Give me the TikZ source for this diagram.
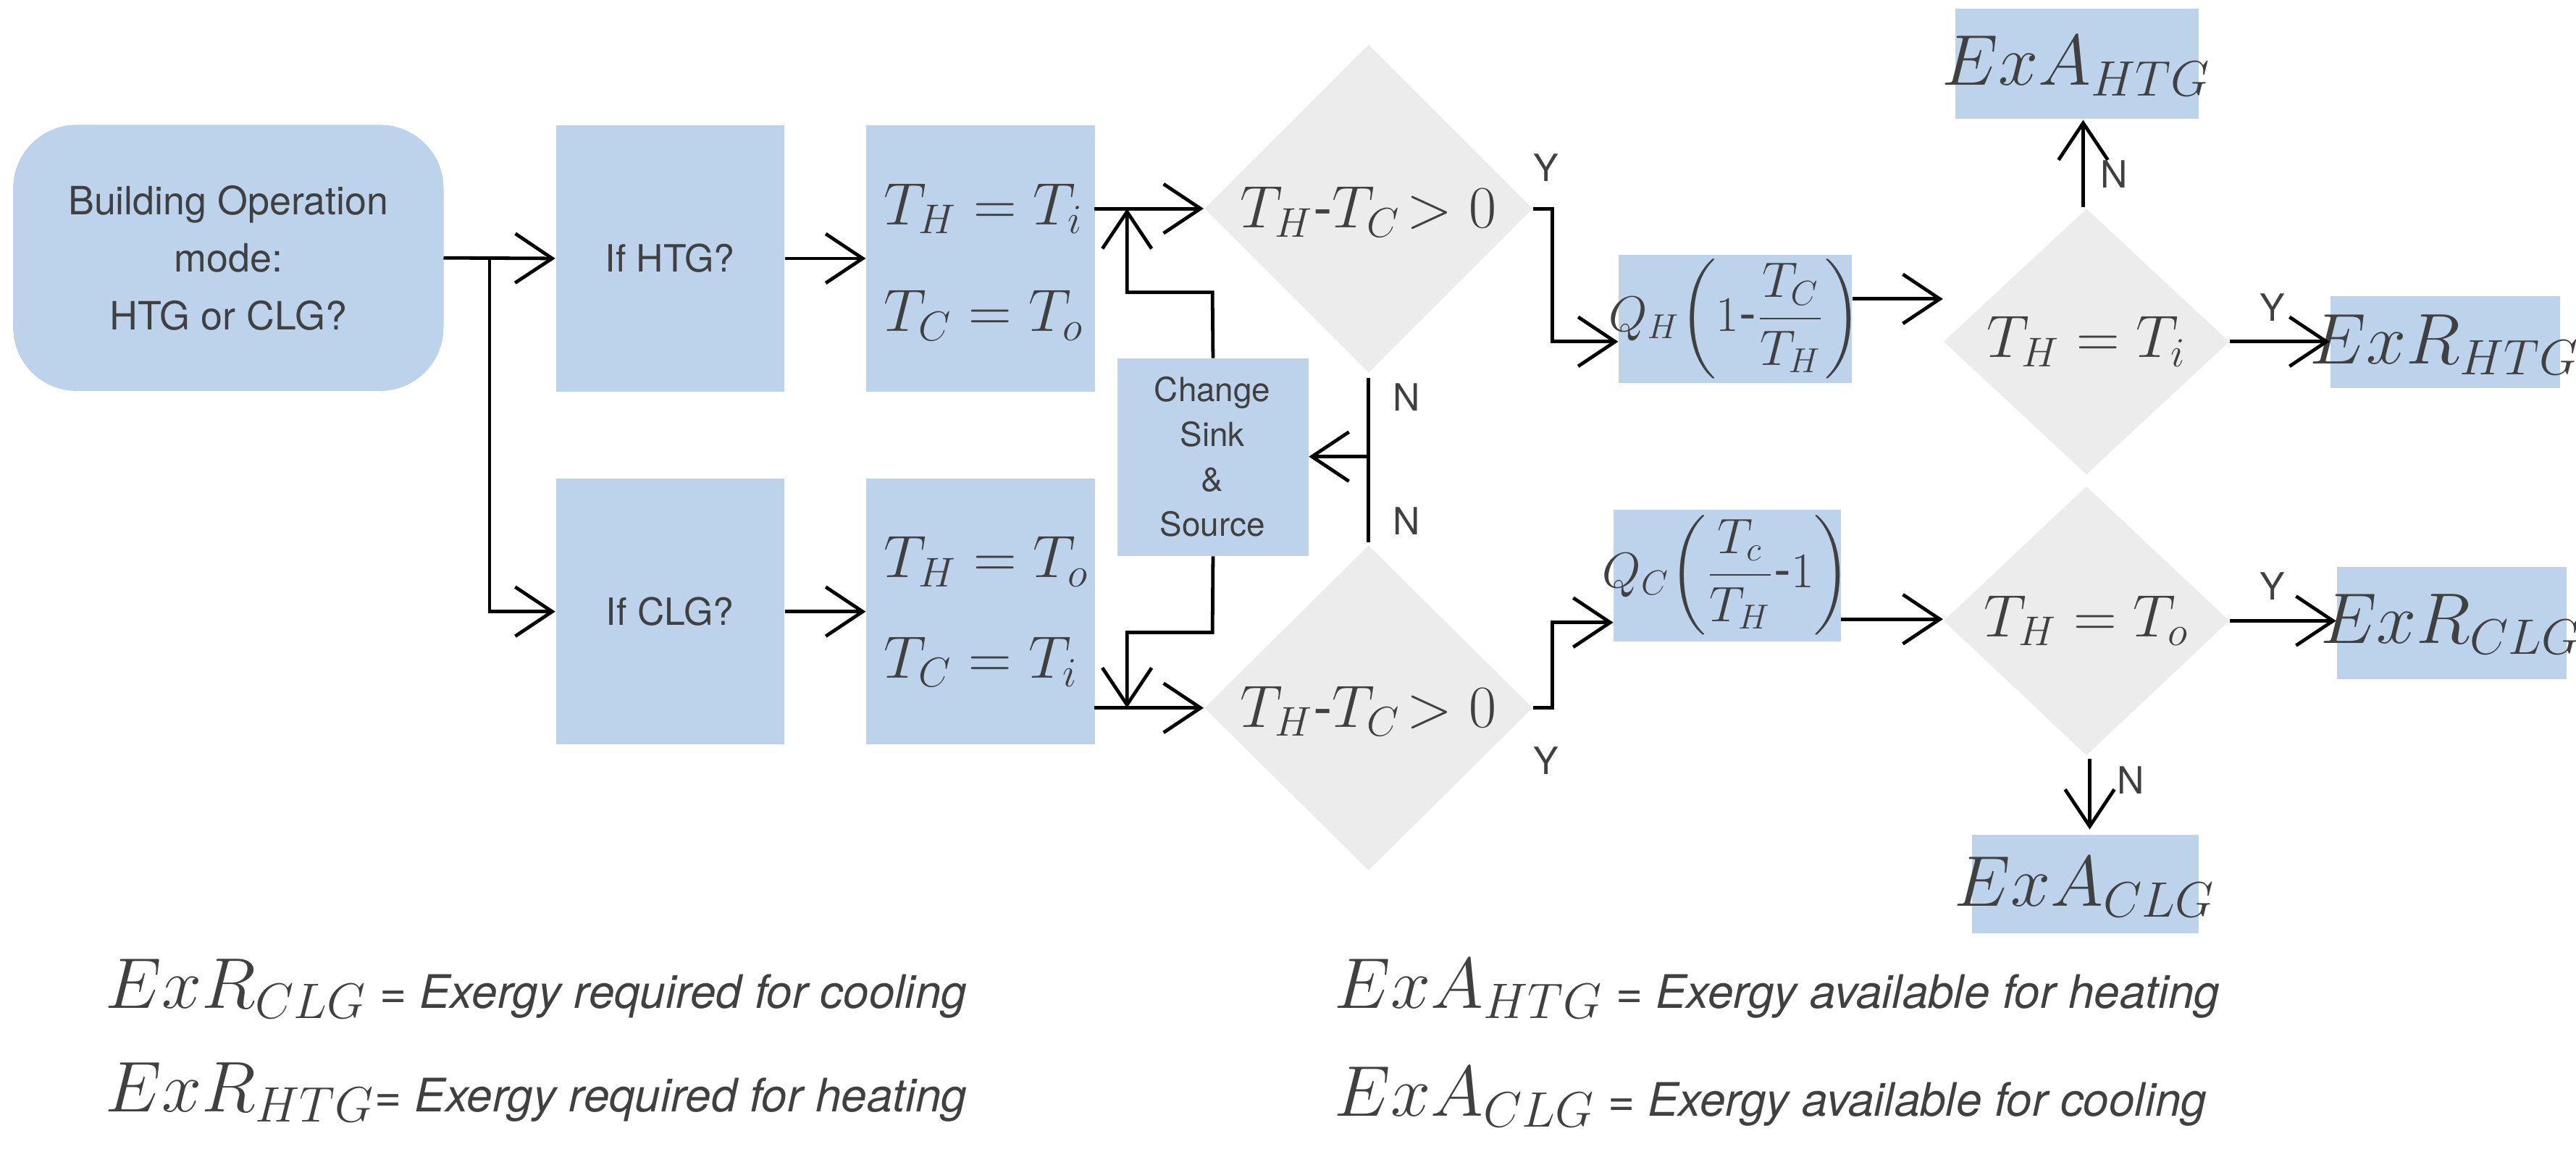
\documentclass[tikz,border=0pt]{standalone}
\usepackage{amsmath}
\usepackage{fontspec}
\setmainfont{TeX Gyre Heros}
\usetikzlibrary{arrows.meta,shapes.geometric}
\definecolor{bx}{HTML}{BCD3EB}
\definecolor{dg}{HTML}{EBECEB}
\definecolor{tx}{HTML}{404040}
\tikzset{
 bbox/.style={fill=bx,draw=none,text=tx,inner sep=0pt,anchor=north west},
 dia/.style={fill=dg,draw=none,diamond,inner sep=0pt,text=tx},
 arr/.style={line width=1.2pt,-{Straight Barb[length=4.5mm,width=6mm,line width=1.2pt]}},
 ln/.style={line width=1.2pt},
 lab/.style={text=tx,font=\fontsize{13}{15}\selectfont},
}
\newcommand{\bgm}[1]{\fontsize{20}{24}\selectfont$#1$}
\begin{document}
\begin{tikzpicture}[x=0.02cm,y=-0.02cm,every node/.style={text=tx}]
\useasboundingbox (0,0) rectangle (1568,704);
\fill[bx,rounded corners=22] (8,76) rectangle (270,238);
\node[align=center,font=\fontsize{13.5}{20}\selectfont] (bo) at (139,157) {Building Operation\\mode:\\HTG or CLG?};
\coordinate (boE) at (270,157);
\node[bbox,minimum width=139*0.02cm,minimum height=162*0.02cm,font=\fontsize{13}{15}\selectfont] (ih) at (338,76) {If HTG?};
\node[bbox,minimum width=139*0.02cm,minimum height=162*0.02cm,font=\fontsize{13}{15}\selectfont] (ic) at (338,291) {If CLG?};
\node[bbox,minimum width=139*0.02cm,minimum height=162*0.02cm] (tu) at (527,76) {};
\node[bbox,minimum width=139*0.02cm,minimum height=162*0.02cm] (tl) at (527,291) {};
\node[anchor=west] at (532,127) {\bgm{T_H = T_i}};
\node[anchor=west] at (532,192) {\bgm{T_C = T_o}};
\node[anchor=west] at (532,342) {\bgm{T_H = T_o}};
\node[anchor=west] at (532,403) {\bgm{T_C = T_i}};
\node[bbox,minimum width=116*0.02cm,minimum height=120*0.02cm] (cs) at (680,218) {};
\node[align=center,font=\fontsize{11.5}{15.5}\selectfont] at (738,278) {Change\\Sink\\\&\\Source};
\node[dia,minimum width=200*0.02cm,minimum height=200*0.02cm] (d1) at (833,127) {};
\node at (833,129) {\bgm{T_H\text{-}T_C\!>0}};
\node[dia,minimum width=200*0.02cm,minimum height=198*0.02cm] (d2) at (833,431) {};
\node at (833,433) {\bgm{T_H\text{-}T_C\!>0}};
\node[bbox,minimum width=142*0.02cm,minimum height=78*0.02cm] (qh) at (985,155) {};
\node at (1056,194) {\fontsize{18}{22}\selectfont$Q_H\!\left(1\text{-}\dfrac{T_C}{T_H}\right)$};
\node[bbox,minimum width=138*0.02cm,minimum height=80*0.02cm] (qc) at (982,310) {};
\node at (1051,350) {\fontsize{18}{22}\selectfont$Q_C\!\left(\dfrac{T_c}{T_H}\text{-}1\right)$};
\node[dia,minimum width=174*0.02cm,minimum height=162*0.02cm] (d3) at (1270,208) {};
\node at (1270,208) {\bgm{T_H = T_i}};
\node[dia,minimum width=174*0.02cm,minimum height=164*0.02cm] (d4) at (1270,378) {};
\node at (1270,378) {\bgm{T_H = T_o}};
\node[bbox,minimum width=148*0.02cm,minimum height=67*0.02cm] (ea1) at (1190,5) {};
\node at (1264,40) {\fontsize{24}{28}\selectfont$ExA_{HTG}$};
\node[bbox,minimum width=140*0.02cm,minimum height=56*0.02cm] (er1) at (1418,180) {};
\node at (1488,210) {\fontsize{24}{28}\selectfont$ExR_{HTG}$};
\node[bbox,minimum width=140*0.02cm,minimum height=68*0.02cm] (er2) at (1422,345) {};
\node at (1492,380) {\fontsize{24}{28}\selectfont$ExR_{CLG}$};
\node[bbox,minimum width=138*0.02cm,minimum height=60*0.02cm] (ea2) at (1200,508) {};
\node at (1269,540) {\fontsize{24}{28}\selectfont$ExA_{CLG}$};
% connectors
\draw[arr] (boE) -- (ih.west);
\draw[arr] (298,157) |- (ic.west);
\draw[arr] (ih.east) -- (tu.west|-ih.east);
\draw[arr] (ic.east) -- (tl.west|-ic.east);
\draw[arr] (666,127) -- (d1.west);
\draw[arr] (666,431) -- (d2.west);
\draw[arr] (cs.north) -- (738,178) -- (686,178) -- (686,127);
\draw[arr] (cs.south) -- (738,385) -- (686,385) -- (686,431);
\draw[ln] (833,230) -- (833,330);
\draw[arr] (833,278) -- (cs.east|-833,278);
\node[lab] at (856,242) {N};
\node[lab] at (856,317) {N};
\draw[arr] (d1.east) -- (945,127) |- (qh.west|-945,208);
\node[lab] at (941,102) {Y};
\draw[arr] (d2.east) -- (945,431) |- (qc.west|-945,379);
\node[lab] at (941,463) {Y};
\draw[arr] (qh.east|-1127,182) -- (d3.west|-1127,182);
\draw[arr] (qc.east|-1120,377) -- (d4.west|-1120,377);
\draw[arr] (1268,126) -- (1268,73);
\node[lab] at (1287,106) {N};
\draw[arr] (d3.east) -- (er1.west|-d3.east);
\node[lab] at (1383,187) {Y};
\draw[arr] (d4.east) -- (er2.west|-d4.east);
\node[lab] at (1383,357) {Y};
\draw[arr] (1272,462) -- (1272,505);
\node[lab] at (1297,475) {N};
% legend
\node[anchor=west] at (58,602) {\fontsize{24}{28}\selectfont$ExR_{CLG}$\fontsize{16}{20}\selectfont\itshape\ = Exergy required for cooling};
\node[anchor=west] at (58,665) {\fontsize{24}{28}\selectfont$ExR_{HTG}$\fontsize{16}{20}\selectfont\itshape = Exergy required for heating};
\node[anchor=west] at (806,602) {\fontsize{24}{28}\selectfont$ExA_{HTG}$\fontsize{16}{20}\selectfont\itshape\ = Exergy available for heating};
\node[anchor=west] at (806,668) {\fontsize{24}{28}\selectfont$ExA_{CLG}$\fontsize{16}{20}\selectfont\itshape\ = Exergy available for cooling};
\end{tikzpicture}
\end{document}
